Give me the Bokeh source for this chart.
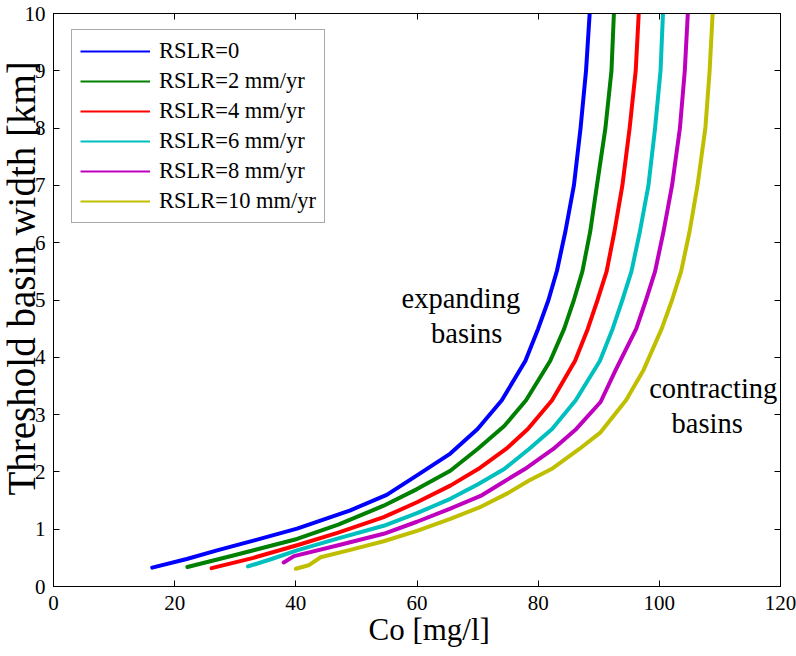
import math
from bokeh.plotting import figure
from bokeh.models import (Range1d, LinearAxis, FixedTicker, Label, Legend, LegendItem,
                          ColumnDataSource, Title, CustomJSTickFormatter)
from bokeh.embed import file_html
from bokeh.resources import INLINE

# ---------------- data ----------------
x_ticks = [0, 20, 40, 60, 80, 100, 120]
y_ticks = [0, 1, 2, 3, 4, 5, 6, 7, 8, 9, 10]

series_labels = ["RSLR=0", "RSLR=2 mm/yr", "RSLR=4 mm/yr",
                 "RSLR=6 mm/yr", "RSLR=8 mm/yr", "RSLR=10 mm/yr"]
series_colors = ["#0000ff", "#008000", "#ff0000", "#00bfbf", "#bf00bf", "#bfbf00"]

co_rslr0 = [16.3, 22.0, 27.0, 33.0, 40.2, 49.0, 55.0, 60.0, 65.5, 70.0, 74.0, 77.9, 80.0, 81.7, 83.1, 84.5, 85.9, 87.0, 87.9, 88.5]
w_rslr0 = [0.33, 0.48, 0.63, 0.80, 1.01, 1.33, 1.60, 1.94, 2.32, 2.75, 3.25, 3.94, 4.50, 5.00, 5.51, 6.20, 7.00, 8.00, 9.00, 10.0]

co_rslr2 = [22.1, 30.0, 40.2, 47.0, 54.5, 60.0, 65.5, 70.0, 74.4, 78.0, 82.0, 84.3, 85.9, 87.3, 88.6, 89.7, 91.1, 92.1, 92.5]
w_rslr2 = [0.34, 0.55, 0.83, 1.08, 1.41, 1.70, 2.02, 2.40, 2.80, 3.25, 3.94, 4.50, 5.00, 5.50, 6.20, 7.00, 8.00, 9.00, 10.0]

co_rslr4 = [26.1, 33.0, 40.2, 47.0, 54.5, 60.0, 65.5, 70.1, 74.7, 78.3, 82.3, 86.1, 88.2, 89.8, 91.3, 92.6, 93.9, 95.1, 96.1, 96.6]
w_rslr4 = [0.32, 0.50, 0.72, 0.94, 1.21, 1.47, 1.76, 2.05, 2.40, 2.75, 3.25, 3.94, 4.50, 5.00, 5.50, 6.20, 7.00, 8.00, 9.00, 10.0]

co_rslr6 = [32.1, 36.0, 40.2, 47.0, 54.5, 60.0, 65.5, 70.0, 74.4, 78.5, 82.3, 86.2, 90.2, 92.3, 93.9, 95.4, 96.8, 98.2, 99.3, 100.2, 100.6]
w_rslr6 = [0.35, 0.48, 0.63, 0.84, 1.06, 1.28, 1.53, 1.78, 2.05, 2.40, 2.75, 3.25, 3.94, 4.50, 5.00, 5.50, 6.20, 7.00, 8.00, 9.00, 10.0]

co_rslr8 = [38.0, 39.7, 47.0, 54.5, 60.0, 65.5, 70.5, 74.2, 77.8, 82.5, 86.3, 90.3, 92.8, 96.2, 97.8, 99.3, 100.7, 102.1, 103.4, 104.2, 104.7]
w_rslr8 = [0.42, 0.53, 0.72, 0.92, 1.13, 1.36, 1.58, 1.82, 2.05, 2.40, 2.75, 3.22, 3.78, 4.50, 5.00, 5.50, 6.20, 7.00, 8.00, 9.00, 10.0]

co_rslr10 = [40.0, 42.1, 44.1, 49.0, 54.5, 60.0, 65.5, 70.3, 75.0, 78.5, 82.2, 86.8, 90.3, 94.5, 97.4, 100.4, 102.1, 103.6, 105.0, 106.3, 107.6, 108.3, 108.8]
w_rslr10 = [0.31, 0.37, 0.51, 0.64, 0.79, 0.97, 1.18, 1.38, 1.63, 1.85, 2.05, 2.40, 2.69, 3.25, 3.78, 4.50, 5.00, 5.50, 6.20, 7.00, 8.00, 9.00, 10.0]

co_series = [co_rslr0, co_rslr2, co_rslr4, co_rslr6, co_rslr8, co_rslr10]
w_series = [w_rslr0, w_rslr2, w_rslr4, w_rslr6, w_rslr8, w_rslr10]

x_title = "Co [mg/l]"
y_title = "Threshold basin width [km]"

FONT = "Liberation Serif"

# ---------------- figure ----------------
p = figure(width=796, height=656, output_backend="svg", toolbar_location=None,
           x_range=Range1d(0, 120), y_range=Range1d(0, 10),
           min_border_left=53, min_border_right=16, min_border_top=13, min_border_bottom=70,
           background_fill_color="white", border_fill_color="white")
p.grid.visible = False
p.outline_line_color = "black"
p.outline_line_width = 1

blank = CustomJSTickFormatter(code="return ''")
top_axis = LinearAxis(ticker=FixedTicker(ticks=x_ticks), formatter=blank)
right_axis = LinearAxis(ticker=FixedTicker(ticks=y_ticks), formatter=blank)
p.add_layout(top_axis, "above")
p.add_layout(right_axis, "right")

p.xaxis[0].ticker = FixedTicker(ticks=x_ticks)
p.yaxis[0].ticker = FixedTicker(ticks=y_ticks)

p.axis.axis_label = None
p.axis.major_label_text_font = FONT
p.axis.major_label_text_font_size = "21px"
p.axis.major_label_text_color = "black"
p.axis.major_tick_in = 6
p.axis.major_tick_out = 0
p.axis.minor_tick_in = 0
p.axis.minor_tick_out = 0
p.axis.axis_line_color = "black"
p.axis.major_tick_line_color = "black"

below_axis = [a for a in p.below if isinstance(a, LinearAxis)][0]
left_axis = [a for a in p.left if isinstance(a, LinearAxis)][0]
below_axis.major_label_standoff = 9
left_axis.major_label_standoff = 8
for a in (below_axis, left_axis):
    a.major_label_text_font = FONT
    a.major_label_text_font_style = "normal"
for a in (top_axis, right_axis):
    a.major_label_text_font_size = "1px"
    a.major_label_standoff = 0

items = []
for co, w, lab, col in zip(co_series, w_series, series_labels, series_colors):
    src = ColumnDataSource(dict(x=co, y=w))
    p.line("x", "y", source=src, line_color=col, line_width=4, line_join="round", line_cap="round")
    thin = p.line("x", "y", source=src, line_color=col, line_width=2)
    items.append(LegendItem(label=lab, renderers=[thin]))

legend = Legend(items=items, location=(18, 363), padding=8, spacing=4, margin=0,
                glyph_width=70, glyph_height=26, label_height=26, label_standoff=9,
                label_text_font=FONT, label_text_font_size="22.5px", label_text_color="black",
                border_line_color="#555555", border_line_width=1,
                background_fill_color="white", background_fill_alpha=1.0)
p.add_layout(legend, "center")

# axis titles (side-panel titles, aligned with an offset like the reference)
def make_title(text, size, offset, standoff):
    kw = dict(text=text, align="left", vertical_align="bottom", offset=offset,
              text_font=FONT, text_font_size=size, text_font_style="normal", text_color="black")
    try:
        return Title(standoff=standoff, **kw)
    except Exception:
        return Title(standoff=0, **kw)

p.add_layout(make_title(y_title, "39px", 91, -43), "left")
p.add_layout(make_title(x_title, "31px", 315, -5), "below")

# annotations
ann = [("expanding", 67.25, 5.03), ("basins", 68.2, 4.42),
       ("contracting", 108.9, 3.46), ("basins", 107.9, 2.85)]
for t, ax_, ay_ in ann:
    p.add_layout(Label(x=ax_, y=ay_, text=t, text_align="center", text_baseline="alphabetic",
                       text_font=FONT, text_font_size="28.5px", text_color="black"))

open("out.html", "w").write(file_html(p, INLINE))
